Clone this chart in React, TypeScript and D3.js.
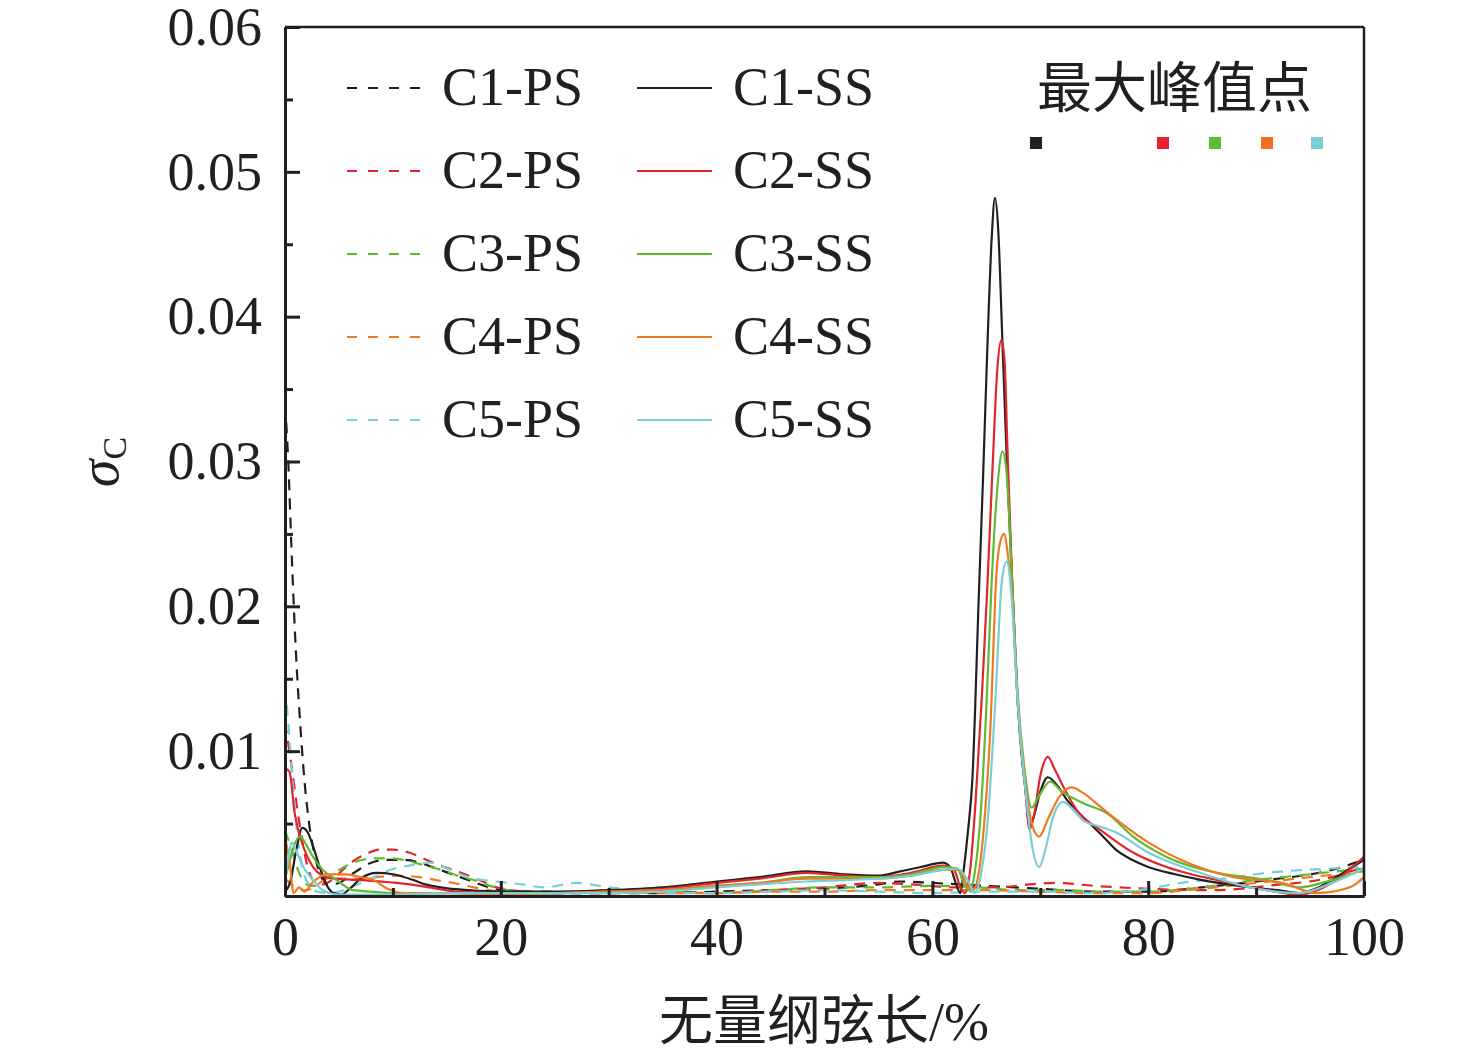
import React, { useEffect, useRef } from "react";
import * as d3 from "d3";

type P = [number, number];

const seriesNames = ["C1", "C2", "C3", "C4", "C5"];
const seriesColors = ["#231f20", "#e0262d", "#5fba32", "#f07a22", "#78cfd5"];
const markerColors = ["#231f20", "#e8212b", "#5fbb2f", "#f26f21", "#76d0d4"];

const xTicksMajor = [0, 20, 40, 60, 80, 100];
const xTicksMinor = [10, 30, 50, 70, 90];
const yTicksMajor = [0.01, 0.02, 0.03, 0.04, 0.05, 0.06];
const yTicksMinor = [0.005, 0.015, 0.025, 0.035, 0.045, 0.055];

const C1_PS: P[] = [[0,0.034],[0.3,0.030],[0.6,0.024],[1.0,0.017],[1.4,0.012],[1.8,0.008],[2.2,0.0052],[2.7,0.003],[3.3,0.0014],[4,0.0008],[5,0.0009],[6,0.0014],[7,0.0019],[8,0.0023],[9.5,0.0025],[11,0.0025],[12.5,0.0023],[14,0.0019],[15.5,0.0015],[17,0.0011],[18.5,0.0007],[20,0.0004],[22,0.0003],[25,0.0002],[30,0.0002],[35,0.0002],[40,0.0003],[45,0.0004],[50,0.0005],[55,0.0008],[57,0.001],[60,0.0009],[65,0.0007],[70,0.0005],[75,0.0003],[80,0.0003],[85,0.0006],[91,0.0011],[97,0.0018],[100,0.0025]];
const C2_PS: P[] = [[0,0.012],[0.3,0.0105],[0.7,0.0085],[1.1,0.0062],[1.6,0.0038],[2.1,0.002],[2.7,0.001],[3.5,0.0008],[4.5,0.0012],[5.5,0.0019],[6.5,0.0025],[7.5,0.0029],[8.8,0.0032],[10,0.0032],[11.5,0.003],[12.8,0.0026],[14,0.0022],[15.6,0.0018],[17,0.0014],[18,0.0011],[19.6,0.0006],[21,0.0004],[25,0.0002],[30,0.0002],[35,0.0003],[40,0.0002],[45,0.0004],[50,0.0006],[55,0.0009],[58,0.0008],[62,0.0006],[66,0.0006],[69,0.0008],[71.5,0.0009],[75,0.0007],[80,0.0005],[86,0.0004],[91,0.0007],[97,0.0013],[100,0.002]];
const C3_PS: P[] = [[0,0.0045],[0.5,0.0035],[1.2,0.0018],[2,0.0008],[2.8,0.0007],[3.8,0.0012],[4.8,0.0017],[6,0.0022],[7.2,0.0025],[8.5,0.0026],[10,0.0026],[11.5,0.0024],[13,0.0021],[14.5,0.0018],[16,0.0014],[17.5,0.0011],[19,0.0007],[21,0.0004],[25,0.0003],[30,0.0002],[35,0.0003],[40,0.0002],[45,0.0004],[50,0.0006],[55,0.0006],[60,0.0007],[64,0.0006],[68,0.0004],[72,0.0004],[76,0.0003],[80,0.0003],[85,0.0006],[90,0.0011],[95,0.0015],[100,0.0019]];
const C4_PS: P[] = [[0,0.0012],[1,0.0006],[2,0.0004],[3,0.0008],[4,0.0012],[5.5,0.0012],[7,0.0012],[8.5,0.0013],[10.4,0.0014],[12.5,0.0013],[14,0.0011],[15.6,0.0009],[17.5,0.0006],[20,0.0003],[25,0.0002],[30,0.0003],[35,0.0002],[40,0.0002],[45,0.0003],[50,0.0003],[55,0.0004],[60,0.0004],[65,0.0004],[70,0.0003],[75,0.0002],[80,0.0002],[85,0.0005],[90,0.0009],[95,0.0013],[100,0.0017]];
const C5_PS: P[] = [[0,0.0145],[0.3,0.012],[0.7,0.008],[1.1,0.0045],[1.6,0.002],[2.2,0.0008],[3,0.0003],[4,0.0002],[5.5,0.0004],[7,0.0009],[8.5,0.0014],[9.7,0.0018],[11.5,0.0021],[13.4,0.0023],[15,0.0019],[17,0.0013],[19.6,0.001],[22,0.0008],[24,0.0006],[27,0.0009],[30,0.0006],[33,0.0004],[36,0.0002],[40,0.0002],[45,0.0003],[50,0.0004],[55,0.0003],[60,0.0002],[65,0.0003],[70,0.0003],[75,0.0002],[80,0.0005],[83,0.0009],[87,0.0012],[91,0.0016],[97,0.0019],[100,0.002]];

const C1_SS: P[] = [[0,0.0003],[0.5,0.001],[1,0.003],[1.6,0.0047],[2.1,0.0044],[2.7,0.0032],[3.3,0.0018],[3.9,0.0007],[4.5,0.0002],[5.2,0.0001],[6,0.0005],[7,0.0012],[8.5,0.0016],[10,0.0015],[11.9,0.0011],[13,0.0008],[14.4,0.0006],[17,0.0004],[20,0.0003],[25,0.0003],[30,0.0004],[35,0.0006],[40,0.001],[44,0.0013],[48.4,0.0017],[51.7,0.0015],[54.9,0.0014],[57,0.0017],[58.9,0.002],[61,0.0023],[61.7,0.0019],[62.2,0.0008],[62.6,0.0002],[62.9,0.0018],[63.3,0.0045],[63.7,0.008],[64.3,0.0207],[64.7,0.029],[65.15,0.0391],[65.5,0.0455],[65.8,0.0482],[66.1,0.046],[66.45,0.0391],[66.9,0.030],[67.4,0.0215],[67.9,0.0135],[68.3,0.0095],[68.6,0.0075],[69.0,0.0048],[69.4,0.0055],[70.0,0.0072],[70.7,0.0082],[71.5,0.0077],[72.5,0.0066],[73.5,0.0058],[74.6,0.005],[75.7,0.0042],[77,0.0032],[78.5,0.0025],[80,0.002],[82.5,0.0015],[85,0.0011],[87.5,0.0008],[89.5,0.0006],[92,0.0004],[94,0.0002],[95.5,0.0005],[97,0.0011],[98.5,0.0018],[100,0.0025]];
const C2_SS: P[] = [[0,0.0088],[0.4,0.0086],[0.9,0.0057],[1.7,0.0034],[2.6,0.002],[3.5,0.0014],[4.5,0.0012],[7.2,0.0011],[10.4,0.0009],[13.4,0.0006],[16,0.0003],[20,0.0002],[25,0.0002],[30,0.0003],[35,0.0005],[40,0.0009],[44,0.0012],[48.4,0.0016],[52,0.0014],[55,0.0013],[58,0.0016],[61,0.0021],[62,0.0018],[62.6,0.0006],[63.0,0.0002],[63.5,0.0018],[64.0,0.0065],[64.6,0.014],[65.1,0.0215],[65.6,0.030],[66.0,0.0362],[66.4,0.0384],[66.7,0.0368],[66.95,0.031],[67.4,0.0215],[67.9,0.0135],[68.6,0.0075],[69.0,0.0046],[69.4,0.0055],[70.0,0.0083],[70.7,0.0096],[71.3,0.0088],[72.3,0.0073],[73.5,0.0058],[75.5,0.0046],[78.6,0.003],[81.7,0.002],[84,0.0015],[86.4,0.0011],[91,0.0004],[94,0.0001],[97,0.0009],[100,0.0027]];
const C3_SS: P[] = [[0,0.0012],[0.3,0.002],[0.8,0.0034],[1.4,0.0041],[2,0.0035],[2.6,0.0027],[3.5,0.0018],[4.8,0.0011],[6.3,0.0004],[8,0.0003],[10,0.0002],[15,0.0002],[20,0.0002],[25,0.0002],[30,0.0003],[35,0.0004],[40,0.0007],[44,0.0009],[48.4,0.0013],[52,0.0013],[55,0.0013],[58,0.0015],[61,0.002],[62.3,0.0019],[63,0.0007],[63.5,0.0004],[63.9,0.0015],[64.5,0.006],[65.0,0.013],[65.5,0.0218],[66.0,0.028],[66.5,0.0307],[66.9,0.029],[67.4,0.0215],[67.9,0.014],[68.5,0.009],[69.2,0.0061],[69.8,0.0068],[70.9,0.0079],[72,0.0072],[74,0.0064],[76.2,0.0057],[78.6,0.0041],[81.7,0.0027],[86.4,0.0016],[91,0.0011],[94,0.0006],[97,0.0011],[100,0.0018]];
const C4_SS: P[] = [[0,0.004],[0.4,0.0025],[0.8,0.0002],[1.3,0.0006],[1.8,0.0003],[2.5,0.0009],[3.9,0.0015],[5.7,0.0015],[7,0.0013],[8.2,0.0011],[9.5,0.0005],[11,0.0002],[15,0.0002],[20,0.0001],[25,0.0002],[30,0.0003],[35,0.0004],[40,0.0007],[44,0.0009],[48.4,0.0012],[52,0.0012],[55,0.0012],[58,0.0014],[61,0.0018],[62.5,0.0018],[63.3,0.0006],[63.8,0.0004],[64.2,0.0012],[64.8,0.005],[65.4,0.012],[65.9,0.0218],[66.3,0.0245],[66.65,0.025],[67.0,0.0235],[67.4,0.0205],[67.9,0.0135],[68.6,0.0078],[69.3,0.0048],[69.9,0.0041],[70.7,0.0053],[71.8,0.0069],[72.9,0.0075],[74,0.0071],[75.5,0.0062],[77,0.0053],[80,0.0037],[83,0.0025],[87.9,0.0013],[92.5,0.0009],[95.6,0.0002],[98.7,0.0006],[100,0.0013]];
const C5_SS: P[] = [[0,0.001],[0.3,0.0025],[0.6,0.0037],[1.1,0.003],[1.7,0.002],[2.6,0.0011],[3.5,0.0004],[5,0.0001],[10,0.0001],[15,0.0002],[20,0.0002],[25,0.0002],[30,0.0002],[35,0.0003],[40,0.0006],[44,0.0008],[48.4,0.001],[52,0.0011],[55,0.0012],[58,0.0014],[61,0.0018],[62.3,0.0019],[63.2,0.0012],[63.9,0.0002],[64.5,0.0015],[65.1,0.005],[65.8,0.013],[66.45,0.0218],[66.9,0.0231],[67.3,0.021],[67.9,0.0135],[68.6,0.0075],[69.3,0.0032],[69.9,0.002],[70.5,0.0033],[71.2,0.0055],[72.1,0.0065],[73,0.006],[74,0.0052],[75.5,0.0048],[77,0.0044],[80,0.003],[84.8,0.0016],[89.4,0.0006],[94,0.0002],[97,0.0009],[100,0.0019]];

const psData = [C1_PS, C2_PS, C3_PS, C4_PS, C5_PS];
const ssData = [C1_SS, C2_SS, C3_SS, C4_SS, C5_SS];

const W = 1476, H = 1059;
const M = { left: 285, right: 1364, top: 27, bottom: 896 };
const SERIF = "'Liberation Serif','Times New Roman',serif";
const CJK = "'Noto Sans CJK SC','Noto Sans CJK JP',sans-serif";

export default function App() {
  const ref = useRef<SVGSVGElement>(null);
  useEffect(() => {
    const svg = d3.select(ref.current);
    svg.selectAll("*").remove();
    const x = d3.scaleLinear().domain([0, 100]).range([M.left, M.right]);
    const y = d3.scaleLinear().domain([0, 0.06]).range([M.bottom, M.top]);

    svg.append("rect").attr("width", W).attr("height", H).attr("fill", "#fff");
    svg.append("defs").append("clipPath").attr("id", "plotclip")
      .append("rect").attr("x", M.left).attr("y", M.top)
      .attr("width", M.right - M.left).attr("height", M.bottom - M.top);

    const line = d3.line<P>().x(d => x(d[0])).y(d => y(d[1])).curve(d3.curveMonotoneX);
    const g = svg.append("g").attr("clip-path", "url(#plotclip)");
    psData.forEach((d, i) => {
      g.append("path").attr("d", line(d)).attr("fill", "none")
        .attr("stroke", seriesColors[i]).attr("stroke-width", 2.2)
        .attr("stroke-dasharray", "11,8");
    });
    ssData.forEach((d, i) => {
      g.append("path").attr("d", line(d)).attr("fill", "none")
        .attr("stroke", seriesColors[i]).attr("stroke-width", 2.2);
    });

    // frame top/right
    svg.append("line").attr("x1", M.left).attr("x2", M.right).attr("y1", M.top).attr("y2", M.top)
      .attr("stroke", "#231f20").attr("stroke-width", 2.5);
    svg.append("line").attr("x1", M.right).attr("x2", M.right).attr("y1", M.top).attr("y2", M.bottom)
      .attr("stroke", "#231f20").attr("stroke-width", 2.5);

    const styleAxis = (sel: any) => {
      sel.select(".domain").attr("stroke", "#231f20").attr("stroke-width", 3);
      sel.selectAll(".tick line").attr("stroke", "#231f20").attr("stroke-width", 3);
      sel.selectAll("text").attr("font-family", SERIF).attr("font-size", 54).attr("fill", "#231f20");
    };

    const xMinor = svg.append("g").attr("transform", `translate(0,${M.bottom})`)
      .call(d3.axisBottom(x).tickValues(xTicksMinor).tickSizeInner(-8).tickSizeOuter(0).tickFormat(() => ""));
    styleAxis(xMinor);
    const xMajor = svg.append("g").attr("transform", `translate(0,${M.bottom})`)
      .call(d3.axisBottom(x).tickValues(xTicksMajor).tickSizeInner(-15).tickSizeOuter(0).tickPadding(21).tickFormat(d3.format("d")));
    styleAxis(xMajor);

    const yMinor = svg.append("g").attr("transform", `translate(${M.left},0)`)
      .call(d3.axisLeft(y).tickValues(yTicksMinor).tickSizeInner(-8).tickSizeOuter(0).tickFormat(() => ""));
    styleAxis(yMinor);
    const yMajor = svg.append("g").attr("transform", `translate(${M.left},0)`)
      .call(d3.axisLeft(y).tickValues(yTicksMajor).tickSizeInner(-15).tickSizeOuter(0).tickPadding(23).tickFormat(d3.format(".2f")));
    styleAxis(yMajor);

    // axis titles
    const xt = svg.append("text").attr("x", 824).attr("y", 1040).attr("text-anchor", "middle")
      .attr("fill", "#231f20").attr("font-size", 54);
    xt.append("tspan").attr("font-family", CJK).text("无量纲弦长");
    xt.append("tspan").attr("font-family", SERIF).text("/%");

    const yt = svg.append("text").attr("transform", "translate(118,462) rotate(-90)")
      .attr("text-anchor", "middle").attr("fill", "#231f20").attr("font-family", SERIF);
    yt.append("tspan").attr("font-size", 56).attr("font-style", "italic").text("σ");
    yt.append("tspan").attr("font-size", 34).attr("dy", 8).text("C");

    // legend
    const rowY = (i: number) => 88 + i * 83;
    seriesNames.forEach((n, i) => {
      svg.append("line").attr("x1", 347).attr("x2", 421).attr("y1", rowY(i)).attr("y2", rowY(i))
        .attr("stroke", seriesColors[i]).attr("stroke-width", 2).attr("stroke-dasharray", "10,11");
      svg.append("text").attr("x", 442).attr("y", rowY(i) + 17).attr("font-family", SERIF)
        .attr("font-size", 54).attr("fill", "#231f20").text(`${n}-PS`);
      svg.append("line").attr("x1", 637).attr("x2", 712).attr("y1", rowY(i)).attr("y2", rowY(i))
        .attr("stroke", seriesColors[i]).attr("stroke-width", 2);
      svg.append("text").attr("x", 733).attr("y", rowY(i) + 17).attr("font-family", SERIF)
        .attr("font-size", 54).attr("fill", "#231f20").text(`${n}-SS`);
    });

    svg.append("text").attr("x", 1037).attr("y", 107).attr("font-family", CJK)
      .attr("font-size", 55).attr("fill", "#231f20").text("最大峰值点");
    const markerX = [1036, 1163, 1215, 1267, 1317];
    markerColors.forEach((c, i) => {
      svg.append("rect").attr("x", markerX[i] - 6).attr("y", 137).attr("width", 12).attr("height", 12).attr("fill", c);
    });
  }, []);

  return (
    <div style={{ position: "absolute", left: 0, top: 0 }}>
      <svg ref={ref} width={W} height={H} style={{ display: "block" }} />
    </div>
  );
}
